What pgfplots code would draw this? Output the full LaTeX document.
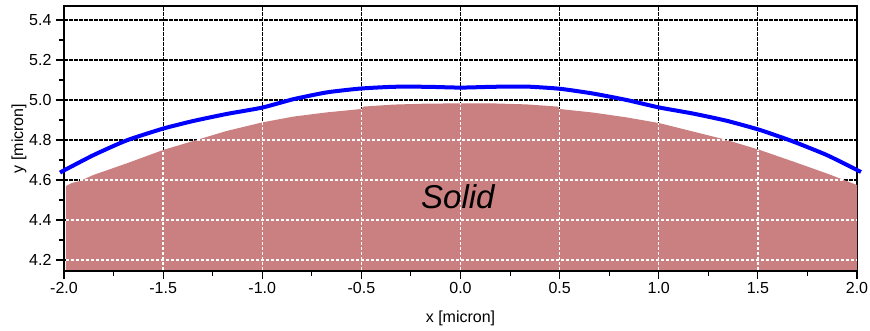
\documentclass[border=0pt]{standalone}
\usepackage{fontspec}
\setmainfont{Liberation Sans}
\usepackage{pgfplots}
\pgfplotsset{compat=1.18}
\definecolor{solidfill}{RGB}{202,128,128}
\begin{document}
\begin{tikzpicture}
\begin{axis}[
  name=ax,
  scale only axis,
  width=793pt, height=265pt,
  xmin=-2, xmax=2, ymin=4.145, ymax=5.47,
  xtick={-2,-1.5,...,2}, ytick={4.2,4.4,...,5.4},
  minor x tick num=1, minor y tick num=1,
  xtick pos=bottom, ytick pos=left,
  tick align=outside,
  major tick length=8pt, minor tick length=5pt,
  axis line style={line width=1.3pt},
  every tick/.style={black, line width=1.1pt},
  grid=major,
  major grid style={black, line width=1.2pt, dash pattern=on 4pt off 1pt},
  clip=false,
  /pgf/number format/assume math mode=true,
  /pgf/number format/fixed, /pgf/number format/fixed zerofill, /pgf/number format/precision=1,
  tick label style={font=\fontsize{16}{19}\selectfont},
  xlabel={x [micron]}, ylabel={y [micron]},
  every axis x label/.style={at={(axis description cs:0.5,-0.177)}, anchor=center, font=\fontsize{16}{19}\selectfont},
  every axis y label/.style={at={(axis description cs:-0.0567,0.5)}, anchor=center, rotate=90, font=\fontsize{16}{19}\selectfont},
  yticklabel style={xshift=-1pt},
]
% solid region
\addplot[draw=none, fill=solidfill] coordinates {
(-1.99,4.15) (-1.99,4.57) (-1.96,4.585) (-1.92,4.595) (-1.852,4.625) (-1.684,4.683)
(-1.5,4.75) (-1.348,4.795) (-1.18,4.845) (-1.0,4.888) (-0.843,4.917) (-0.675,4.938)
(-0.50,4.955) (-0.49,4.967) (-0.339,4.977) (-0.17,4.982) (0,4.983) (0.165,4.983)
(0.334,4.978) (0.49,4.967) (0.50,4.955) (0.67,4.937) (0.838,4.913) (1.0,4.885)
(1.174,4.842) (1.343,4.80) (1.51,4.75) (1.679,4.692) (1.847,4.633) (2.0,4.575) (2.0,4.15)
} -- cycle;
% white dashed grid on the solid
\pgfplotsset{whitegrid/.style={white, line width=1.3pt, dash pattern=on 3pt off 2pt, forget plot}}
\addplot[whitegrid] coordinates {(-1.99,4.2) (2,4.2)};
\addplot[whitegrid] coordinates {(-1.99,4.4) (2,4.4)};
\addplot[whitegrid] coordinates {(-1.92,4.6) (1.93,4.6)};
\addplot[whitegrid] coordinates {(-1.331,4.8) (1.343,4.8)};
\addplot[whitegrid] coordinates {(-1.5,4.15) (-1.5,4.75)};
\addplot[whitegrid] coordinates {(-1.0,4.15) (-1.0,4.888)};
\addplot[whitegrid] coordinates {(-0.5,4.15) (-0.5,4.955)};
\addplot[whitegrid] coordinates {(0,4.15) (0,4.983)};
\addplot[whitegrid] coordinates {(0.5,4.15) (0.5,4.955)};
\addplot[whitegrid] coordinates {(1.0,4.15) (1.0,4.885)};
\addplot[whitegrid] coordinates {(1.5,4.15) (1.5,4.752)};
% interface line
\addplot[blue, line width=4pt, line join=round, smooth, tension=0.35] coordinates {
(-2.02,4.637) (-2.0,4.648) (-1.85,4.725) (-1.684,4.798) (-1.5,4.857) (-1.348,4.895)
(-1.18,4.930) (-1.0,4.962) (-0.843,5.004) (-0.675,5.038) (-0.507,5.057) (-0.339,5.066)
(-0.17,5.066) (0,5.062) (0.165,5.066) (0.334,5.067) (0.502,5.056) (0.67,5.032)
(0.838,5.0) (1.0,4.963) (1.174,4.932) (1.343,4.896) (1.511,4.850) (1.679,4.792)
(1.847,4.725) (2.0,4.650) (2.02,4.640)
};
\node[font=\fontsize{33}{38}\selectfont\itshape] at (axis cs:-0.013,4.517) {Solid};
\end{axis}
\pgfresetboundingbox
\path ([shift={(-64pt,-60pt)}]ax.south west) rectangle ([shift={(13pt,6pt)}]ax.north east);
\end{tikzpicture}
\end{document}
